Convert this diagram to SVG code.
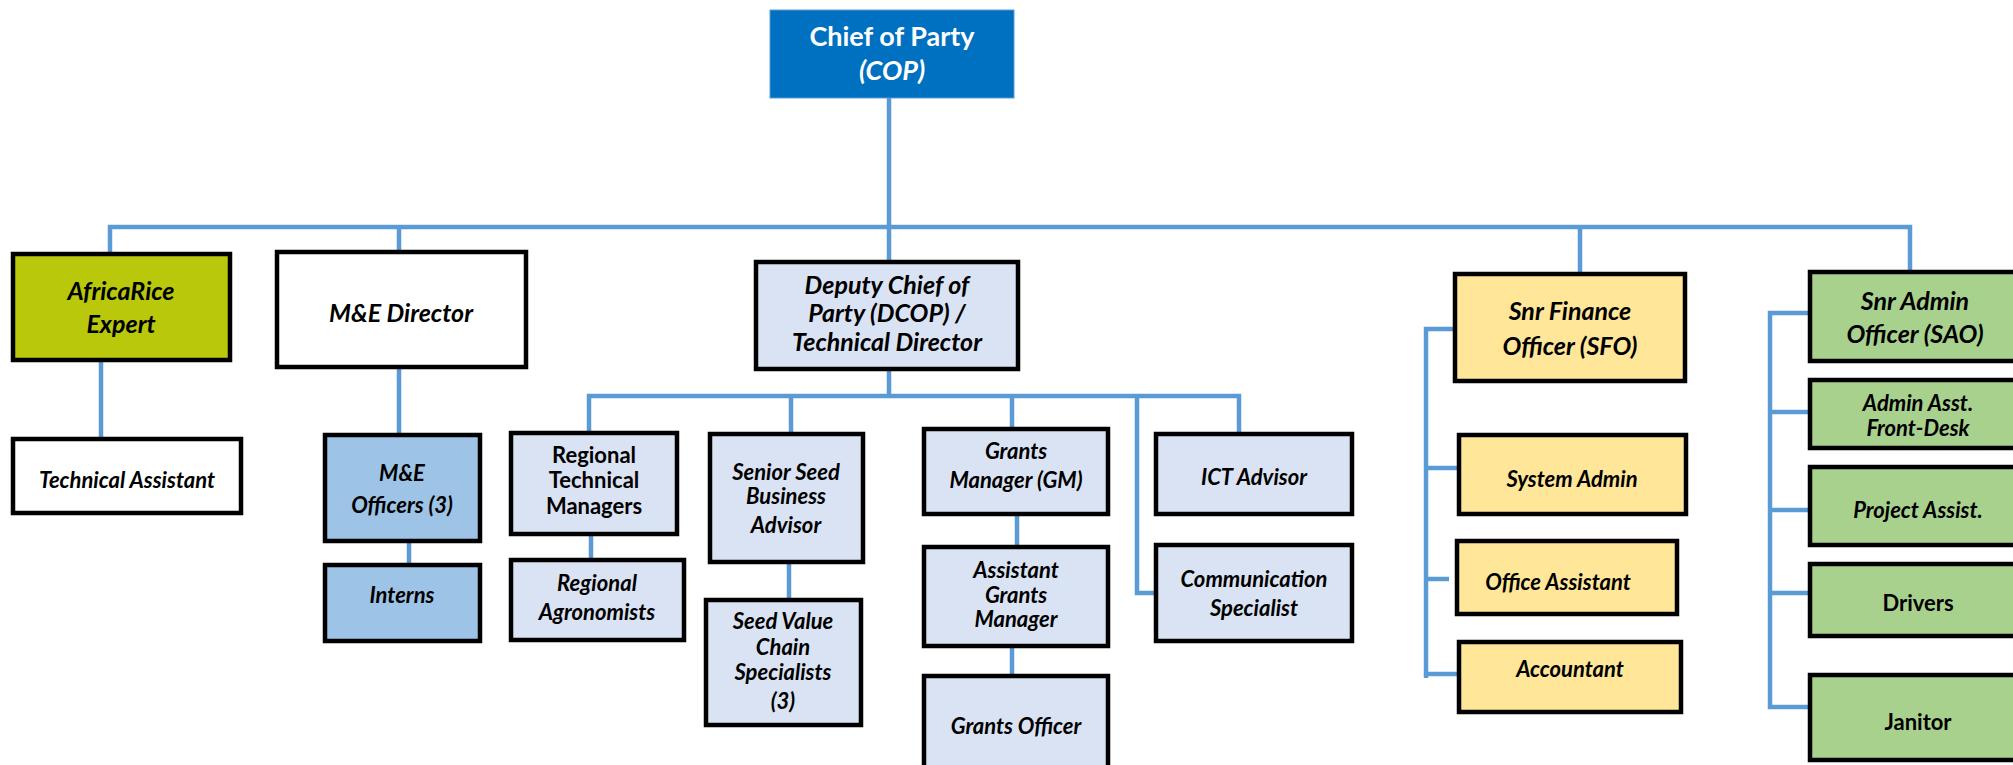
<svg xmlns="http://www.w3.org/2000/svg" width="2013" height="765" viewBox="0 0 2013 765">
<style>
.box{stroke:#000;stroke-width:4.5}
.t{font-family:Lato,"Open Sans","Liberation Sans",sans-serif;font-weight:bold;font-style:italic;font-size:22px;fill:#000;text-anchor:middle}
.n{font-style:normal}
.big{font-size:25px}
.w{fill:#fff;font-size:27px}
.c{fill:none;stroke:#5B9BD5;stroke-width:4.5}
.olive{fill:#B9C80A}.white{fill:#fff}.lb{fill:#DAE3F3}.mb{fill:#9DC3E6}.yel{fill:#FFE699}.grn{fill:#A9D18E}
</style>
<rect width="2013" height="765" fill="#fff"/>
<g id="connectors">
<path class="c" d="M889,98 V260"/>
<path class="c" d="M110,254 V227 H1910 V272"/>
<path class="c" d="M399,227 V252"/>
<path class="c" d="M1580,227 V274"/>
<path class="c" d="M101,362 V439"/>
<path class="c" d="M399,369 V435"/>
<path class="c" d="M409,543 V565"/>
<path class="c" d="M889,371 V396"/>
<path class="c" d="M589,433 V396 H1239 V434"/>
<path class="c" d="M791,396 V434"/>
<path class="c" d="M1012,396 V429"/>
<path class="c" d="M1137,396 V593 H1156"/>
<path class="c" d="M591,536 V560"/>
<path class="c" d="M789,564 V600"/>
<path class="c" d="M1017,516 V547"/>
<path class="c" d="M1012,648 V676"/>
<path class="c" d="M1455,329 H1426 V678"/>
<path class="c" d="M1426,468 H1459"/>
<path class="c" d="M1426,579 H1449"/>
<path class="c" d="M1426,674 H1459"/>
<path class="c" d="M1810,313 H1770 V707 H1810"/>
<path class="c" d="M1770,412 H1810"/>
<path class="c" d="M1770,510 H1810"/>
<path class="c" d="M1770,593 H1810"/>
</g>
<g id="cop"><rect x="770" y="10" width="244" height="88" fill="#0070C0" stroke="#5A9BD8" stroke-width="1"/>
<text class="t w n" x="892" y="46">Chief of Party</text><text class="t w" x="892" y="80">(COP)</text></g>
<g id="africarice"><rect class="box olive" x="13" y="254" width="217" height="106"/>
<text class="t big" x="121" y="300">AfricaRice</text><text class="t big" x="121" y="333">Expert</text></g>
<g id="me-director"><rect class="box white" x="277" y="252" width="249" height="115"/>
<text class="t big" x="401" y="322">M&amp;E Director</text></g>
<g id="tech-assistant"><rect class="box white" x="13" y="439" width="228" height="74"/>
<text class="t" x="127" y="488">Technical Assistant</text></g>
<g id="dcop"><rect class="box lb" x="756" y="262" width="262" height="107"/>
<text class="t big" x="887" y="294">Deputy Chief of</text><text class="t big" x="887" y="322">Party (DCOP) /</text><text class="t big" x="887" y="351">Technical Director</text></g>
<g id="me-officers"><rect class="box mb" x="325" y="435" width="155" height="106"/>
<text class="t" x="402" y="481">M&amp;E</text><text class="t" x="402" y="513">Officers (3)</text></g>
<g id="interns"><rect class="box mb" x="325" y="565" width="155" height="76"/>
<text class="t" x="402" y="603">Interns</text></g>
<g id="rtm"><rect class="box lb" x="511" y="433" width="166" height="101"/>
<text class="t n" x="594" y="463">Regional</text><text class="t n" x="594" y="488">Technical</text><text class="t n" x="594" y="514">Managers</text></g>
<g id="agronomists"><rect class="box lb" x="511" y="560" width="173" height="80"/>
<text class="t" x="597" y="591">Regional</text><text class="t" x="597" y="620">Agronomists</text></g>
<g id="ssba"><rect class="box lb" x="710" y="434" width="153" height="128"/>
<text class="t" x="786" y="480">Senior Seed</text><text class="t" x="786" y="504">Business</text><text class="t" x="786" y="533">Advisor</text></g>
<g id="svcs"><rect class="box lb" x="706" y="600" width="155" height="125"/>
<text class="t" x="783" y="629">Seed Value</text><text class="t" x="783" y="655">Chain</text><text class="t" x="783" y="680">Specialists</text><text class="t" x="783" y="709">(3)</text></g>
<g id="gm"><rect class="box lb" x="924" y="429" width="184" height="85"/>
<text class="t" x="1016" y="459">Grants</text><text class="t" x="1016" y="488">Manager (GM)</text></g>
<g id="agm"><rect class="box lb" x="924" y="547" width="184" height="99"/>
<text class="t" x="1016" y="578">Assistant</text><text class="t" x="1016" y="603">Grants</text><text class="t" x="1016" y="627">Manager</text></g>
<g id="grants-officer"><rect class="box lb" x="924" y="676" width="184" height="100"/>
<text class="t" x="1016" y="734">Grants Officer</text></g>
<g id="ict"><rect class="box lb" x="1156" y="434" width="196" height="80"/>
<text class="t" x="1254" y="485">ICT Advisor</text></g>
<g id="comm"><rect class="box lb" x="1156" y="545" width="196" height="96"/>
<text class="t" x="1254" y="587">Communication</text><text class="t" x="1254" y="616">Specialist</text></g>
<g id="sfo"><rect class="box yel" x="1455" y="274" width="230" height="107"/>
<text class="t big" x="1570" y="320">Snr Finance</text><text class="t big" x="1570" y="355">Officer (SFO)</text></g>
<g id="system-admin"><rect class="box yel" x="1459" y="435" width="227" height="79"/>
<text class="t" x="1572" y="487">System Admin</text></g>
<g id="office-assistant"><rect class="box yel" x="1457" y="541" width="220" height="73"/>
<text class="t" x="1558" y="590">Office Assistant</text></g>
<g id="accountant"><rect class="box yel" x="1459" y="642" width="222" height="70"/>
<text class="t" x="1570" y="677">Accountant</text></g>
<g id="sao"><rect class="box grn" x="1810" y="272" width="230" height="89"/>
<text class="t big" x="1915" y="310">Snr Admin</text><text class="t big" x="1915" y="343">Officer (SAO)</text></g>
<g id="admin-asst"><rect class="box grn" x="1810" y="380" width="230" height="68"/>
<text class="t" x="1918" y="411">Admin Asst.</text><text class="t" x="1918" y="436">Front-Desk</text></g>
<g id="project-assist"><rect class="box grn" x="1810" y="467" width="230" height="78"/>
<text class="t" x="1918" y="518">Project Assist.</text></g>
<g id="drivers"><rect class="box grn" x="1810" y="564" width="230" height="72"/>
<text class="t n" x="1918" y="611">Drivers</text></g>
<g id="janitor"><rect class="box grn" x="1810" y="675" width="230" height="85"/>
<text class="t n" x="1918" y="730">Janitor</text></g>
</svg>
